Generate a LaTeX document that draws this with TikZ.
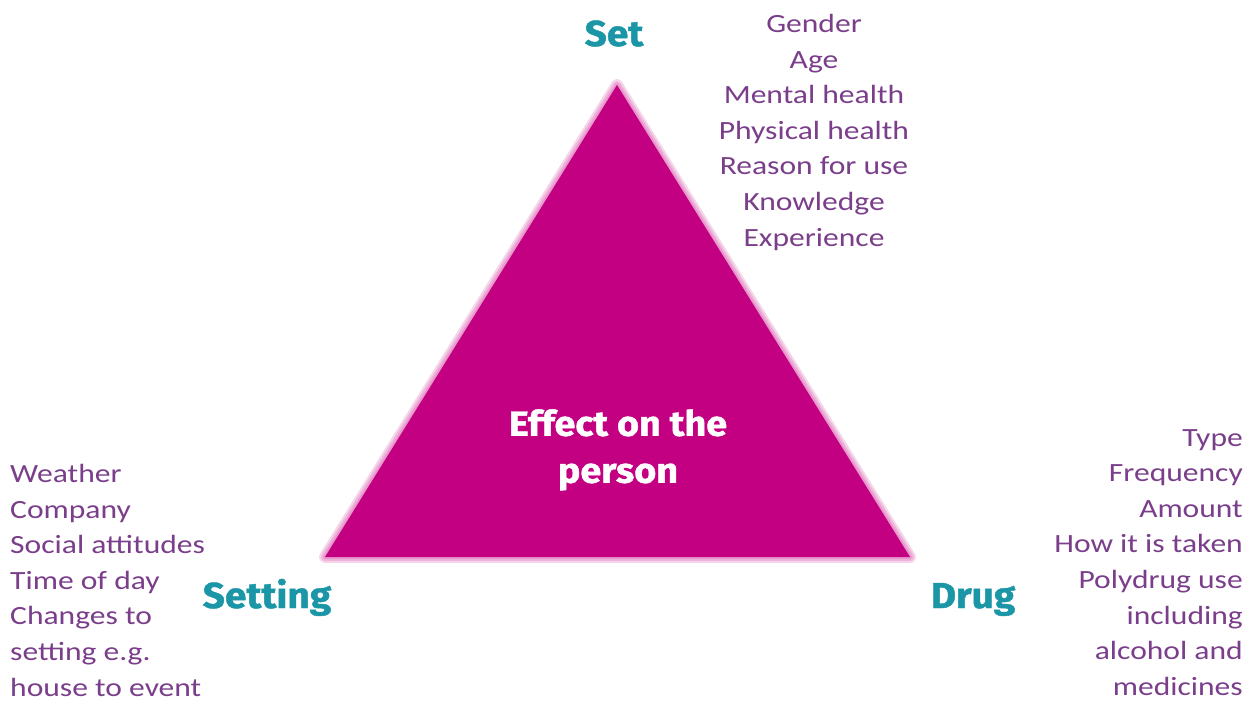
\documentclass[tikz,border=0pt]{standalone}
\usepackage{fontspec}
\setmainfont{Carlito}[FakeStretch=1.2]
\newfontfamily\headfont{Fira Sans}[FakeStretch=1.08, BoldFeatures={FakeBold=1.2}]
\definecolor{triMagenta}{RGB}{196,0,130}
\definecolor{headTeal}{RGB}{27,150,166}
\definecolor{itemPurple}{RGB}{122,62,138}
\tikzset{
	head/.style={font=\headfont\bfseries\fontsize{36}{40}\selectfont, text=headTeal, inner sep=0, anchor=base},
	items/.style={font=\fontsize{26.3}{35.6}\selectfont, text=itemPurple, inner sep=0, anchor=north},
}

\begin{document}
\begin{tikzpicture}[x=1pt, y=-1pt]
			%%%%% START %%%%%
			\useasboundingbox (0, 0) rectangle (1252, 702);
			
			% soft edge of the triangle
			\foreach \w in {12, 8, 4}
				\draw[triMagenta, line width=\w pt, line join=round, opacity=0.16] (617, 85) -- (325, 557) -- (910, 557) -- cycle;
			\fill[triMagenta] (617, 85) -- (325, 557) -- (910, 557) -- cycle;
			
			\node[font=\headfont\bfseries\fontsize{35}{47}\selectfont, text=white, align=center, inner sep=0, anchor=north] (effect) at (618, 409) {Effect on the\\person};
			
			\node[head] (set) at (614, 46) {Set};
			\node[head] (setting) at (267, 608) {Setting};
			\node[head] (drug) at (973, 608) {Drug};
			
			\node[items, align=center] (setlist) at (814, 14) {Gender\\Age\\Mental health\\Physical health\\Reason for use\\Knowledge\\Experience};
			\node[items, align=left, anchor=north west] (settinglist) at (10, 464) {Weather\\Company\\Social attitudes\\Time of day\\Changes to\\setting e.g.\\house to event};
			\node[items, align=right, anchor=north east] (druglist) at (1243, 429) {Type\\Frequency\\Amount\\How it is taken\\Polydrug use\\including\\alcohol and\\medicines};
			%%%%% END %%%%%
\end{tikzpicture}
\end{document}
